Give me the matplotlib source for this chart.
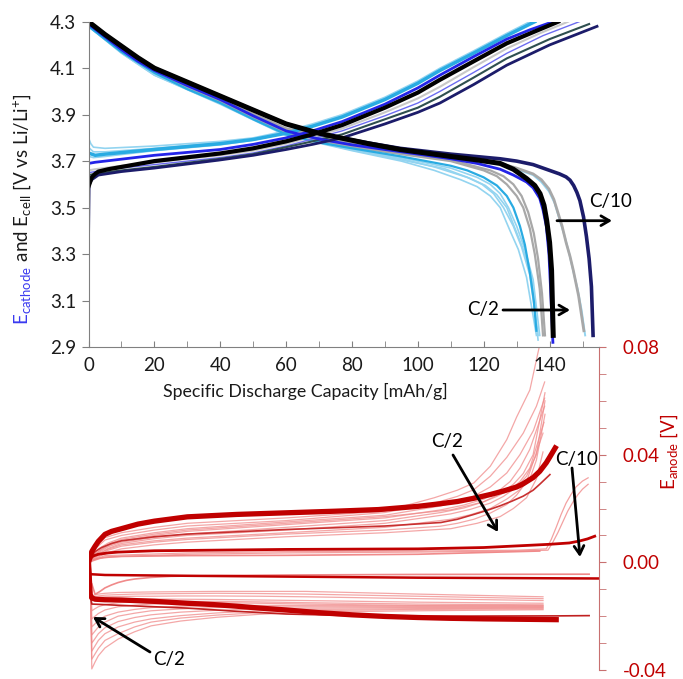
import matplotlib
matplotlib.use("Agg")
import matplotlib.pyplot as plt
from matplotlib.ticker import MultipleLocator, FormatStrFormatter

# ---- Cell / cathode curves (top panel), x = mAh/g, v = V vs Li/Li+ ----
# descending curves
dsc_lb_x = [[0, 10, 20, 40, 60, 80, 95, 105, 113, 118, 122, 125, 128, 130.5, 133, 136],
            [0, 10, 20, 40, 60, 80, 95, 105, 115, 119.5, 123, 126, 129, 131.5, 134, 136.5],
            [0, 10, 20, 40, 60, 80, 95, 110, 118, 122, 125, 127.5, 130, 132.5, 135, 137],
            [0, 10, 20, 40, 60, 80, 95, 108, 116, 120.5, 124, 127, 129.5, 132, 134.5, 136.5]]
dsc_lb_v = [[4.28, 4.165, 4.07, 3.945, 3.81, 3.745, 3.70, 3.66, 3.62, 3.59, 3.55, 3.50, 3.40, 3.32, 3.20, 2.95],
            [4.28, 4.17, 4.075, 3.95, 3.815, 3.75, 3.71, 3.675, 3.63, 3.60, 3.56, 3.50, 3.42, 3.33, 3.21, 2.95],
            [4.28, 4.17, 4.075, 3.95, 3.815, 3.755, 3.715, 3.67, 3.63, 3.60, 3.56, 3.50, 3.42, 3.32, 3.19, 2.95],
            [4.28, 4.165, 4.07, 3.948, 3.812, 3.748, 3.705, 3.668, 3.625, 3.595, 3.555, 3.50, 3.41, 3.32, 3.20, 2.93]]
dsc_gray_x = [[0, 10, 20, 40, 60, 80, 95, 110, 120, 124, 127, 130, 132, 134, 135.5, 137, 138],
              [0, 10, 20, 40, 60, 80, 95, 110, 122, 126, 129, 131.5, 133.5, 135.2, 136.5, 137.7, 138.6]]
dsc_gray_v = [[4.29, 4.18, 4.085, 3.955, 3.82, 3.76, 3.73, 3.70, 3.66, 3.635, 3.60, 3.55, 3.50, 3.41, 3.30, 3.15, 2.95],
              [4.29, 4.185, 4.09, 3.96, 3.825, 3.765, 3.735, 3.705, 3.66, 3.635, 3.60, 3.55, 3.48, 3.39, 3.28, 3.13, 2.95]]
dsc_cyan_x = [0, 10, 20, 30, 40, 50, 60, 70, 80, 95, 110, 115, 120, 124, 127, 129, 131, 132.5, 134, 135.2, 136]
dsc_cyan_v = [4.28, 4.17, 4.08, 4.01, 3.95, 3.88, 3.815, 3.78, 3.755, 3.72, 3.68, 3.66, 3.63, 3.595, 3.55, 3.50, 3.42, 3.34, 3.22, 3.10, 2.97]
dsc_blue_x = [0, 5, 10, 15, 20, 30, 40, 50, 60, 70, 80, 95, 110, 118, 125, 129, 133, 135, 137, 138, 139, 139.8, 140.3, 141]
dsc_blue_v = [4.29, 4.235, 4.18, 4.13, 4.09, 4.025, 3.965, 3.895, 3.83, 3.795, 3.77, 3.74, 3.71, 3.69, 3.665, 3.64, 3.61, 3.585, 3.54, 3.49, 3.42, 3.30, 3.15, 2.92]
dsc_black_x = [0, 5, 10, 15, 20, 30, 40, 50, 60, 70, 76.5, 85, 94.6, 110, 118, 125, 129, 133,
               135.5, 137.1, 138.3, 139.1, 140, 140.6, 141.1]
dsc_black_v = [4.30, 4.245, 4.195, 4.145, 4.10, 4.04, 3.98, 3.92, 3.86, 3.82, 3.80, 3.775, 3.75,
               3.72, 3.705, 3.69, 3.665, 3.625, 3.595, 3.56, 3.51, 3.446, 3.35, 3.23, 2.95]
dsc_c10_gray_x = [0, 10, 20, 40, 60, 80, 95, 110, 125, 130, 135, 137.5, 139.8, 141.3, 142.5, 143.8, 145, 146.2, 147.2, 148.8, 150.4]
dsc_c10_gray_v = [4.29, 4.185, 4.09, 3.965, 3.84, 3.78, 3.745, 3.72, 3.69, 3.67, 3.645, 3.62, 3.58, 3.535, 3.48, 3.42, 3.35, 3.29, 3.23, 3.12, 2.97]
dsc_c10_lb_x = [0, 10, 20, 40, 60, 80, 95, 110, 125, 130, 135, 137.5, 139.8, 141.5, 143, 144.5, 146, 147.3, 148.5, 149.7, 150.8]
dsc_c10_lb_v = [4.29, 4.18, 4.085, 3.96, 3.835, 3.775, 3.74, 3.715, 3.685, 3.665, 3.64, 3.61, 3.57, 3.52, 3.45, 3.38, 3.30, 3.22, 3.15, 3.06, 2.95]
dsc_navy_x = [0, 5, 10, 15, 20, 30, 40, 50, 60, 70, 76.5, 85, 94.6, 110, 125, 130, 135, 140, 143,
              145, 146.2, 147.3, 148.3, 149.2, 150.3, 151.2, 152, 152.7, 153.2]
dsc_navy_v = [4.30, 4.245, 4.195, 4.145, 4.10, 4.04, 3.98, 3.92, 3.86, 3.82, 3.80, 3.778, 3.755,
              3.73, 3.71, 3.70, 3.685, 3.66, 3.645, 3.632, 3.618, 3.595, 3.565, 3.53, 3.46, 3.374, 3.28, 3.16, 2.95]

# ascending curves
asc_lb_x = [[0, 0.7, 1.5, 5, 20, 40, 50, 60, 68, 77, 90, 100, 106.7, 117, 127, 134],
            [0, 0.7, 1.5, 5, 20, 40, 50, 60, 68, 77, 90, 100, 106.7, 117, 127, 134.5],
            [0, 0.7, 1.5, 5, 20, 40, 50, 60, 68, 77, 90, 100, 106.7, 117, 127, 135]]
asc_lb_v = [[3.80, 3.775, 3.76, 3.755, 3.765, 3.785, 3.80, 3.83, 3.86, 3.90, 3.975, 4.045, 4.10, 4.175, 4.25, 4.30],
            [3.76, 3.75, 3.74, 3.74, 3.755, 3.78, 3.795, 3.825, 3.855, 3.895, 3.97, 4.04, 4.095, 4.17, 4.245, 4.30],
            [3.72, 3.718, 3.715, 3.72, 3.745, 3.77, 3.79, 3.82, 3.85, 3.89, 3.965, 4.035, 4.09, 4.165, 4.24, 4.30]]
asc_cyan_x = [0, 2, 5, 20, 40, 50, 60, 68, 77, 90, 100, 106.7, 117, 127, 135.5]
asc_cyan_v = [3.735, 3.725, 3.73, 3.75, 3.775, 3.793, 3.82, 3.85, 3.89, 3.965, 4.035, 4.09, 4.165, 4.24, 4.30]
asc_blue_x = [0, 2, 5, 20, 40, 50, 60, 68, 77, 90, 100, 106.7, 117, 127, 134, 141]
asc_blue_v = [3.69, 3.695, 3.70, 3.725, 3.75, 3.772, 3.80, 3.83, 3.87, 3.945, 4.015, 4.07, 4.15, 4.225, 4.265, 4.30]
asc_black_x = [0, 0.5, 1, 2, 3, 6, 10, 20, 40, 50, 60, 68, 77, 90, 100, 106.7, 117, 127, 135, 142.6]
asc_black_v = [3.59, 3.61, 3.63, 3.645, 3.655, 3.665, 3.675, 3.70, 3.733, 3.755, 3.785, 3.815, 3.855,
               3.93, 3.995, 4.05, 4.13, 4.207, 4.255, 4.30]
asc_gray_x = [0, 2, 10, 20, 40, 50, 60, 68, 77, 90, 100, 106.7, 117, 127, 137, 145.6]
asc_gray_v = [3.66, 3.665, 3.68, 3.695, 3.725, 3.745, 3.775, 3.805, 3.84, 3.91, 3.97, 4.02, 4.105, 4.185, 4.25, 4.30]
asc_purple_x = [0, 2, 10, 20, 40, 50, 60, 68, 77, 90, 100, 106.7, 117, 127, 138, 149]
asc_purple_v = [3.65, 3.655, 3.67, 3.685, 3.715, 3.735, 3.765, 3.795, 3.83, 3.895, 3.95, 4.0, 4.082, 4.164, 4.24, 4.30]
asc_slate_x = [0, 2, 10, 20, 40, 50, 60, 68, 77, 90, 100, 106.7, 117, 127, 140, 152]
asc_slate_v = [3.64, 3.645, 3.66, 3.675, 3.71, 3.73, 3.76, 3.785, 3.815, 3.88, 3.93, 3.977, 4.06, 4.142, 4.225, 4.29]
asc_navy_x = [0, 0.2, 1, 3, 10, 20, 39.4, 50, 60, 68, 77, 90, 100, 106.7, 117, 127, 140, 154.4]
asc_navy_v = [3.35, 3.60, 3.62, 3.64, 3.655, 3.67, 3.704, 3.725, 3.75, 3.772, 3.80, 3.86, 3.91, 3.95,
              4.03, 4.113, 4.2, 4.28]

# ---- Anode curves (bottom panel), v = V ----
an_band_hi_x = [0, 0.5, 1, 2, 3, 5, 7, 10, 15, 20, 30, 45, 60, 75, 88, 100, 107, 112, 117, 122,
                126, 130, 132, 135, 137, 139, 140, 141.7]
an_band_hi_v = [0, 0.0019, 0.004, 0.006, 0.0078, 0.0104, 0.0115, 0.0125, 0.0142, 0.0153, 0.0169,
                0.0178, 0.0184, 0.019, 0.0196, 0.0208, 0.0218, 0.0226, 0.0238, 0.0252, 0.0265,
                0.028, 0.0292, 0.0315, 0.0338, 0.037, 0.039, 0.0425]
an_mid_x = [0, 1, 2, 4, 7, 10, 20, 30, 60, 90, 107, 112, 117, 121, 125, 128.5, 132, 135, 137, 140.1]
an_mid_v = [0, 0.0025, 0.004, 0.0055, 0.007, 0.008, 0.0095, 0.0105, 0.0122, 0.0135, 0.0148, 0.016,
            0.0178, 0.0193, 0.021, 0.0227, 0.0246, 0.0268, 0.029, 0.0326]
an_flat_x = [0, 0.5, 1.5, 3, 6, 9, 20, 60, 100, 120, 140, 146, 149, 151.5, 153.7]
an_flat_v = [0, 0.0015, 0.0024, 0.003, 0.0035, 0.0038, 0.0043, 0.0048, 0.0050, 0.0055, 0.0067,
             0.0072, 0.0079, 0.0087, 0.0097]
an_flat_lt_x = [0, 1, 3, 6, 10, 30, 60, 100, 137]
an_flat_lt_v = [0, 0.0008, 0.0015, 0.0019, 0.0022, 0.0025, 0.0026, 0.0030, 0.0042]
an_neg_x = [0, 0.5, 5, 30, 60, 100, 155]
an_neg_v = [0, -0.0044, -0.0047, -0.005, -0.0053, -0.0057, -0.006]
an_neg_lt_x = [1, 2, 3.5, 5, 7, 9, 11.5, 14, 19, 25, 40, 60, 100, 152]
an_neg_lt_v = [-0.008, -0.0119, -0.0108, -0.0095, -0.0084, -0.0075, -0.0067, -0.0062, -0.0056,
               -0.0052, -0.0049, -0.0047, -0.0045, -0.0044]
an_band_lo_x = [0, 0.5, 1, 2, 5, 10, 20, 30, 38, 45, 52, 60, 70, 80, 90, 100, 110, 120, 142]
an_band_lo_v = [0, -0.012, -0.0132, -0.0137, -0.0139, -0.0140, -0.0145, -0.0152, -0.0157,
                -0.0163, -0.0170, -0.0177, -0.0187, -0.0195, -0.0201, -0.0205, -0.0208, -0.021, -0.0213]
an_lo_thin_x = [0.5, 1, 10, 30, 45, 60, 80, 100, 142, 152]
an_lo_thin_v = [-0.012, -0.0155, -0.0160, -0.017, -0.0182, -0.0192, -0.0198, -0.020, -0.0199, -0.0198]

# light upper fan
an_up_x = [[0, 1, 2, 5, 10, 20, 30, 60, 90, 105, 112, 117, 122, 127, 130, 134, 137.1],
           [0, 1, 2, 5, 10, 20, 30, 60, 90, 105, 112, 117, 122, 127, 132, 136, 138.5],
           [0, 1, 3, 6, 10, 20, 30, 60, 90, 106.7, 112, 117, 122, 127, 131, 135.1, 138.5],
           [0, 1, 3, 6, 10, 20, 30, 60, 90, 107, 114, 120, 124, 128, 131, 134, 138.5],
           [0, 1, 3, 6, 10, 20, 30, 60, 90, 107, 114, 120, 125, 129, 132, 135, 138.6],
           [0, 1, 3, 6, 10, 20, 30, 60, 90, 110, 116, 122, 126, 130, 133, 136, 138.6],
           [0, 1, 3, 6, 10, 20, 30, 60, 90, 110, 116, 122, 127, 131, 134, 136, 138.6],
           [0, 1, 3, 6, 10, 20, 30, 60, 90, 106.7, 112, 117, 122, 127, 130, 133, 138],
           [0, 1, 3, 6, 10, 20, 30, 60, 90, 110, 118, 125, 129, 133, 136, 138],
           [0, 1, 3, 6, 10, 20, 30, 60, 90, 110, 115, 120, 124, 128, 131, 134, 138.3]]
an_up_v = [[0, 0.003, 0.006, 0.0092, 0.011, 0.013, 0.0145, 0.0165, 0.019, 0.024, 0.0268, 0.0295, 0.0357, 0.0456, 0.054, 0.064, 0.0814],
           [0, 0.0025, 0.005, 0.0083, 0.010, 0.012, 0.0135, 0.0155, 0.0185, 0.022, 0.0245, 0.027, 0.032, 0.039, 0.048, 0.058, 0.067],
           [0, 0.002, 0.005, 0.0072, 0.009, 0.011, 0.0125, 0.015, 0.0175, 0.0209, 0.0225, 0.0246, 0.028, 0.0332, 0.040, 0.049, 0.061],
           [0, 0.0018, 0.004, 0.0062, 0.008, 0.010, 0.0115, 0.014, 0.0165, 0.0195, 0.0213, 0.0235, 0.026, 0.030, 0.035, 0.042, 0.058],
           [0, 0.0016, 0.0035, 0.0058, 0.0075, 0.0093, 0.0105, 0.013, 0.0155, 0.0185, 0.0202, 0.0225, 0.0255, 0.029, 0.033, 0.040, 0.063],
           [0, 0.0014, 0.003, 0.0052, 0.007, 0.0088, 0.010, 0.012, 0.0145, 0.018, 0.0197, 0.022, 0.0245, 0.028, 0.032, 0.040, 0.060],
           [0, 0.0014, 0.003, 0.0049, 0.0065, 0.008, 0.009, 0.011, 0.013, 0.016, 0.0177, 0.020, 0.0235, 0.027, 0.031, 0.038, 0.055],
           [0, 0.0012, 0.0025, 0.0045, 0.006, 0.0075, 0.0085, 0.0105, 0.0120, 0.0134, 0.0145, 0.016, 0.0183, 0.0215, 0.025, 0.030, 0.048],
           [0, 0.001, 0.002, 0.0037, 0.005, 0.0065, 0.0075, 0.0095, 0.011, 0.0125, 0.0145, 0.017, 0.020, 0.024, 0.031, 0.041],
           [0, 0.002, 0.004, 0.0067, 0.0085, 0.0105, 0.012, 0.0145, 0.017, 0.0195, 0.021, 0.0225, 0.0245, 0.027, 0.030, 0.035, 0.052]]
# C/10 tails
an_c10_x = [[0, 5, 30, 60, 100, 130, 139, 140.5, 142, 143.5, 145, 146.5, 148, 150, 151.7],
            [0, 5, 30, 60, 100, 130, 139.5, 141, 142.5, 144, 145.5, 147, 148.5, 150, 151.7]]
an_c10_v = [[0, 0.0025, 0.0035, 0.004, 0.0042, 0.0045, 0.005, 0.0085, 0.013, 0.0178, 0.022, 0.0252, 0.028, 0.0302, 0.0314],
            [0, 0.002, 0.003, 0.0035, 0.0038, 0.0042, 0.0045, 0.0075, 0.011, 0.015, 0.019, 0.0222, 0.025, 0.0272, 0.029]]
# light lower fan
an_lo_x = [0.5, 1, 2, 3, 5, 9, 14, 19, 28, 39, 52, 66, 100, 138]
an_lo_v = [[0, -0.0125, -0.0121, -0.0118, -0.0115, -0.0112, -0.0111, -0.0110, -0.0109, -0.0108, -0.0108, -0.0108, -0.0118, -0.0128],
           [0, -0.013, -0.0127, -0.0125, -0.0122, -0.012, -0.0118, -0.0117, -0.0116, -0.0115, -0.0116, -0.0118, -0.0126, -0.0135],
           [0, -0.0135, -0.0132, -0.013, -0.0128, -0.0127, -0.0126, -0.0126, -0.0125, -0.0125, -0.0126, -0.0128, -0.0135, -0.0142],
           [0, -0.014, -0.0138, -0.0137, -0.0136, -0.0135, -0.0135, -0.0136, -0.0137, -0.0138, -0.014, -0.0142, -0.0148, -0.0152],
           [0, -0.018, -0.0172, -0.0165, -0.0157, -0.015, -0.0147, -0.0145, -0.0145, -0.0145, -0.0147, -0.015, -0.0155, -0.0158],
           [0, -0.021, -0.020, -0.019, -0.0177, -0.0165, -0.0159, -0.0155, -0.0152, -0.015, -0.0152, -0.0155, -0.016, -0.016],
           [0, -0.024, -0.0228, -0.0215, -0.020, -0.0185, -0.0175, -0.0168, -0.0163, -0.016, -0.016, -0.016, -0.0162, -0.0163],
           [0, -0.027, -0.0255, -0.024, -0.0222, -0.020, -0.0189, -0.018, -0.0173, -0.0168, -0.0166, -0.0165, -0.0165, -0.0165],
           [0, -0.030, -0.0283, -0.0265, -0.0243, -0.022, -0.0205, -0.0195, -0.0185, -0.0178, -0.0173, -0.017, -0.0168, -0.0168],
           [0, -0.033, -0.031, -0.029, -0.0265, -0.024, -0.0222, -0.021, -0.0198, -0.0188, -0.018, -0.0175, -0.0172, -0.017],
           [0, -0.036, -0.034, -0.032, -0.029, -0.0265, -0.024, -0.0222, -0.0207, -0.0196, -0.0187, -0.018, -0.0175, -0.0173],
           [0, -0.0396, -0.037, -0.0347, -0.0318, -0.0285, -0.0258, -0.0236, -0.0218, -0.0204, -0.0193, -0.0185, -0.018, -0.0176]]

# ---- Style ----
plt.rcParams['font.family'] = ['Lato', 'DejaVu Sans']
plt.rcParams['mathtext.fontset'] = 'custom'
plt.rcParams['mathtext.rm'] = 'Lato'
plt.rcParams['axes.unicode_minus'] = False

LB = '#93d4f0'
CYAN = '#29abe2'
GRAY = '#a8a8a8'
BLUE = '#2424e8'
NAVY = '#1c1c6a'
DRED = '#c00000'
LRED = '#f08a8a'
TXT = '#1a1a1a'
W, H = 683, 679
TICK_FS = 13.5

fig = plt.figure(figsize=(W / 100, H / 100), dpi=100)
ax2 = fig.add_axes([88.5 / W, 1 - 670 / H, (599 - 88.5) / W, (670 - 347) / H])
ax = fig.add_axes([88.5 / W, 1 - 347 / H, (599 - 88.5) / W, (347 - 21.7) / H])
ax.patch.set_alpha(0)
ax2.patch.set_alpha(0)

# ---- Top panel ----
for xs, vs in zip(asc_lb_x, asc_lb_v):
    ax.plot(xs, vs, color=LB, lw=1.2)
for xs, vs in zip(dsc_lb_x, dsc_lb_v):
    ax.plot(xs, vs, color=LB, lw=1.2)
ax.plot(dsc_c10_lb_x, dsc_c10_lb_v, color=LB, lw=1.4)
for xs, vs in zip(dsc_gray_x, dsc_gray_v):
    ax.plot(xs, vs, color=GRAY, lw=1.6)
ax.plot(dsc_c10_gray_x, dsc_c10_gray_v, color=GRAY, lw=2)
ax.plot(asc_gray_x, asc_gray_v, color='#c8c8c8', lw=1.5)
ax.plot(asc_cyan_x, asc_cyan_v, color=CYAN, lw=2.5)
ax.plot(dsc_cyan_x, dsc_cyan_v, color=CYAN, lw=1.6)
ax.plot(asc_purple_x, asc_purple_v, color='#6c6cf0', lw=1)
ax.plot(asc_slate_x, asc_slate_v, color='#2f4f4f', lw=1.5)
ax.plot(asc_blue_x, asc_blue_v, color=BLUE, lw=2)
ax.plot(dsc_blue_x, dsc_blue_v, color=BLUE, lw=2)
ax.plot(asc_navy_x, asc_navy_v, color=NAVY, lw=2)
ax.plot(dsc_navy_x, dsc_navy_v, color=NAVY, lw=2.6)
ax.plot(asc_black_x, asc_black_v, color='black', lw=3)
ax.plot(dsc_black_x, dsc_black_v, color='black', lw=3.6)

ax.set_xlim(0, 155)
ax.set_ylim(2.9, 4.3)
ax.set_xticks([0, 20, 40, 60, 80, 100, 120, 140])
ax.xaxis.set_minor_locator(MultipleLocator(10))
ax.set_yticks([2.9, 3.1, 3.3, 3.5, 3.7, 3.9, 4.1, 4.3])
ax.yaxis.set_major_formatter(FormatStrFormatter('%.1f'))
ax.tick_params(axis='x', which='both', direction='in', length=4, color='#808080',
               labelsize=TICK_FS, pad=7, labelcolor=TXT)
ax.tick_params(axis='y', direction='out', length=5, color='#808080',
               labelsize=TICK_FS, pad=4, labelcolor=TXT)
for s in ['top', 'right']:
    ax.spines[s].set_visible(False)
for s in ['left', 'bottom']:
    ax.spines[s].set_color('#808080')

fig.text(305 / W, 1 - 391 / H, 'Specific Discharge Capacity [mAh/g]',
         ha='center', va='center', fontsize=12.8, color=TXT)

# ---- Bottom panel (anode) ----
for xs, vs in zip(an_up_x, an_up_v):
    ax2.plot(xs, vs, color=LRED, lw=0.9, alpha=0.75)
for xs, vs in zip(an_c10_x, an_c10_v):
    ax2.plot(xs, vs, color=LRED, lw=0.9, alpha=0.8)
for vs in an_lo_v:
    ax2.plot(an_lo_x, vs, color=LRED, lw=0.9, alpha=0.75)
ax2.plot(an_flat_lt_x, an_flat_lt_v, color=LRED, lw=1.2)
ax2.plot(an_neg_lt_x, an_neg_lt_v, color=LRED, lw=1.2)
ax2.plot(an_mid_x, an_mid_v, color='#c83030', lw=1.2)
ax2.plot(an_lo_thin_x, an_lo_thin_v, color='#c02020', lw=1.2)
ax2.plot(an_flat_x, an_flat_v, color=DRED, lw=2)
ax2.plot(an_neg_x, an_neg_v, color=DRED, lw=1.8)
ax2.plot(an_band_hi_x, an_band_hi_v, color=DRED, lw=3.8)
ax2.plot(an_band_lo_x, an_band_lo_v, color=DRED, lw=3.8)

ax2.set_xlim(0, 155)
ax2.set_ylim(-0.04, 0.08)
ax2.yaxis.tick_right()
ax2.yaxis.set_major_locator(MultipleLocator(0.04))
ax2.yaxis.set_minor_locator(MultipleLocator(0.01))
ax2.yaxis.set_major_formatter(FormatStrFormatter('%.2f'))
ax2.tick_params(axis='y', which='both', direction='out', length=5, color='#c87070',
                labelsize=TICK_FS, pad=12, labelcolor=DRED)
ax2.set_xticks([])
for s in ['top', 'left', 'bottom']:
    ax2.spines[s].set_visible(False)
ax2.spines['right'].set_color('#c87070')

fig.text(669 / W, 1 - 452 / H, r'$\mathregular{E_{anode}}$ [V]', rotation=90,
         ha='center', va='center', fontsize=13.5, color=DRED)

# ---- Arrows / labels ----
arw = dict(arrowstyle='->, head_length=0.6, head_width=0.35', lw=2, color='black',
           shrinkA=0, shrinkB=0)
ax.annotate('', xy=(612, H - 220.7), xytext=(557, H - 220.7),
            xycoords='figure pixels', textcoords='figure pixels', arrowprops=arw)
fig.text(611 / W, 1 - 201 / H, 'C/10', ha='center', va='center', fontsize=TICK_FS)
ax.annotate('', xy=(570, H - 310), xytext=(503, H - 310),
            xycoords='figure pixels', textcoords='figure pixels', arrowprops=arw)
fig.text(483 / W, 1 - 310 / H, 'C/2', ha='center', va='center', fontsize=TICK_FS)
ax2.annotate('', xy=(498, H - 532), xytext=(453, H - 455),
             xycoords='figure pixels', textcoords='figure pixels', arrowprops=arw)
fig.text(447 / W, 1 - 442 / H, 'C/2', ha='center', va='center', fontsize=TICK_FS)
ax2.annotate('', xy=(580, H - 557), xytext=(572, H - 468),
             xycoords='figure pixels', textcoords='figure pixels', arrowprops=arw)
fig.text(577 / W, 1 - 460 / H, 'C/10', ha='center', va='center', fontsize=TICK_FS)
ax2.annotate('', xy=(93, H - 617), xytext=(150, H - 652),
             xycoords='figure pixels', textcoords='figure pixels', arrowprops=arw)
fig.text(169 / W, 1 - 660 / H, 'C/2', ha='center', va='center', fontsize=TICK_FS)

# ---- Two-colour y label on the left ----
fig.canvas.draw()
rend = fig.canvas.get_renderer()
t1 = fig.text(28 / W, 1 - 325 / H, r'$\mathregular{E_{cathode}}$', rotation=90,
              rotation_mode='anchor', ha='left', va='baseline', fontsize=13.5, color='#3a3af0')
bb = t1.get_window_extent(rend)
fig.text(28 / W, bb.y1 / H, r' and $\mathregular{E_{cell}}$ [V vs Li/Li$\mathregular{^{+}}$]',
         rotation=90, rotation_mode='anchor', ha='left', va='baseline',
         fontsize=13.5, color=TXT)

fig.savefig('out.png', dpi=100)
